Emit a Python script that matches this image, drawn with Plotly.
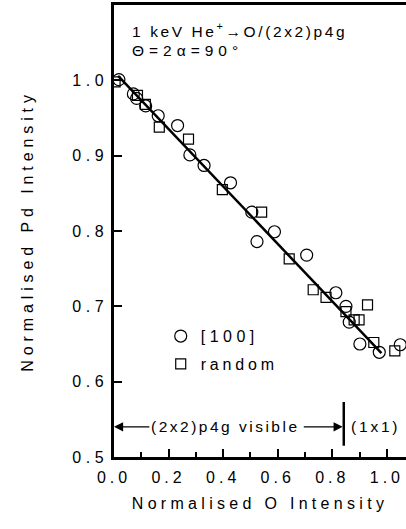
import plotly.graph_objects as go

# ---- data ----
o100_x = [0.018, 0.071, 0.083, 0.116, 0.162, 0.233, 0.278, 0.330, 0.427, 0.505,
          0.524, 0.588, 0.706, 0.813, 0.850, 0.862, 0.901, 0.972, 1.049]
o100_y = [1.001, 0.982, 0.976, 0.966, 0.953, 0.940, 0.901, 0.887, 0.864, 0.825,
          0.786, 0.799, 0.768, 0.718, 0.700, 0.679, 0.650, 0.639, 0.649]

rand_x = [0.004, 0.086, 0.115, 0.166, 0.273, 0.397, 0.541, 0.642, 0.730, 0.777,
          0.850, 0.880, 0.898, 0.929, 0.952, 1.029]
rand_y = [0.998, 0.980, 0.968, 0.938, 0.922, 0.855, 0.825, 0.763, 0.722, 0.712,
          0.693, 0.682, 0.682, 0.702, 0.652, 0.641]

fit_x = [0.015, 0.980]
fit_y = [1.006, 0.638]

x_tick_vals = [0.0, 0.2, 0.4, 0.6, 0.8, 1.0]
x_tick_labels = ["0.0", "0.2", "0.4", "0.6", "0.8", "1.0"]
y_tick_vals = [0.5, 0.6, 0.7, 0.8, 0.9, 1.0]
y_tick_labels = ["0.5", "0.6", "0.7", "0.8", "0.9", "1.0"]

phase_boundary = 0.842   # end of (2x2)p4g region
band_y = 0.540           # height of the region annotation

FONT = "Liberation Sans, Arial, sans-serif"


def ls(text, px):
    return f'<span style="letter-spacing:{px}px">{text}</span>'


fig = go.Figure()

fig.add_trace(go.Scatter(
    x=fit_x, y=fit_y, mode="lines",
    line=dict(color="black", width=2.5),
    showlegend=False, hoverinfo="skip"))

fig.add_trace(go.Scatter(
    x=o100_x, y=o100_y, mode="markers", name=ls("[100]", 4.5),
    legendgroup="a",
    marker=dict(symbol="circle-open", size=12, color="black",
                line=dict(width=1.2, color="black"))))

fig.add_trace(go.Scatter(
    x=rand_x, y=rand_y, mode="markers", name=ls("random", 3.8),
    legendgroup="b",
    marker=dict(symbol="square-open", size=10, color="black",
                line=dict(width=1.2, color="black"))))

annotations = [
    dict(x=0.055, y=0.945, xref="paper", yref="paper", xanchor="left",
         yanchor="middle", showarrow=False,
         text=ls("1 keV He<sup>+</sup>→O/(2x2)p4g", 2.6),
         font=dict(size=15.5, family=FONT, color="black")),
    dict(x=0.055, y=0.900, xref="paper", yref="paper", xanchor="left",
         yanchor="middle", showarrow=False,
         text=ls("Θ=2α=90°", 5),
         font=dict(size=15.5, family=FONT, color="black")),
    # region labels
    dict(x=0.41, y=band_y, xref="x", yref="y", showarrow=False,
         text=ls("(2x2)p4g visible", 2.5),
         font=dict(size=15.5, family=FONT, color="black")),
    dict(x=0.958, y=band_y, xref="x", yref="y", showarrow=False,
         text=ls("(1x1)", 2.8),
         font=dict(size=15.5, family=FONT, color="black")),
    # arrows
    dict(x=0.0, y=band_y, ax=0.135, ay=band_y, xref="x", yref="y",
         axref="x", ayref="y", text="", showarrow=True,
         arrowhead=2, arrowsize=1.3, arrowwidth=1.4, arrowcolor="black"),
    dict(x=phase_boundary - 0.004, y=band_y, ax=0.69, ay=band_y, xref="x",
         yref="y", axref="x", ayref="y", text="", showarrow=True,
         arrowhead=2, arrowsize=1.3, arrowwidth=1.4, arrowcolor="black"),
]

shapes = [
    dict(type="line", xref="x", yref="y", x0=phase_boundary, x1=phase_boundary,
         y0=0.515, y1=0.573, line=dict(color="black", width=2.5)),
]

fig.update_layout(
    width=406, height=529,
    margin=dict(l=114, r=0, t=5, b=72),
    paper_bgcolor="white", plot_bgcolor="white",
    font=dict(family=FONT, size=16, color="black"),
    showlegend=True,
    legend=dict(x=0.16, y=0.305, xanchor="left", yanchor="top",
                bgcolor="rgba(0,0,0,0)", tracegroupgap=4,
                font=dict(size=16, family=FONT, color="black")),
    annotations=annotations,
    shapes=shapes,
    xaxis=dict(
        range=[0, 1.07], showgrid=False, zeroline=False,
        showline=True, linecolor="black", linewidth=2.5, mirror=True,
        ticks="inside", ticklen=8, tickwidth=1.5, tickcolor="black",
        tickvals=x_tick_vals,
        ticktext=[ls(t, 4) for t in x_tick_labels],
        tickfont=dict(size=16, family=FONT, color="black"),
        ticklabelstandoff=4,
        minor=dict(dtick=0.1, tick0=0, ticks="inside", ticklen=5,
                   tickwidth=1.5, tickcolor="black", showgrid=False),
        title=dict(text=ls("Normalised O Intensity", 4.3), standoff=13,
                   font=dict(size=16, family=FONT, color="black")),
    ),
    yaxis=dict(
        range=[0.5, 1.1], showgrid=False, zeroline=False,
        showline=True, linecolor="black", linewidth=2.5, mirror=False,
        ticks="inside", ticklen=8, tickwidth=1.5, tickcolor="black",
        tickvals=y_tick_vals,
        ticktext=[ls(t, 4.5) for t in y_tick_labels],
        tickfont=dict(size=16, family=FONT, color="black"),
        ticklabelstandoff=0,
        title=dict(text=ls("Normalised Pd Intensity", 4.9), standoff=35,
                   font=dict(size=16, family=FONT, color="black")),
    ),
)

fig.write_html("out.html",
               config={"displayModeBar": False},
               post_script="document.body.style.margin='0';"
                           "document.body.style.overflow='hidden';")
